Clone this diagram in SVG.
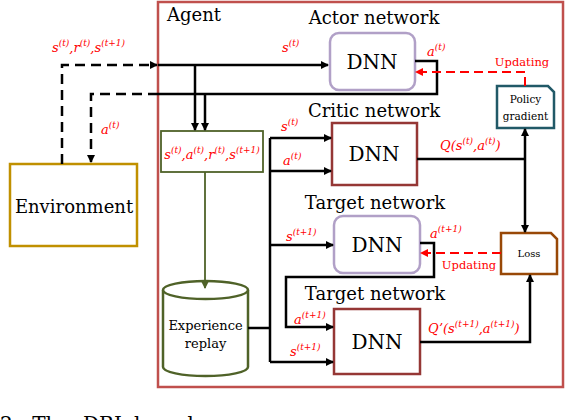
<svg xmlns="http://www.w3.org/2000/svg" width="566" height="420" viewBox="0 0 566 420" font-family="'DejaVu Serif', serif">
<defs>
<marker id="ab" markerWidth="8" markerHeight="8" refX="7" refY="4" orient="auto" markerUnits="userSpaceOnUse"><path d="M0,0 L8,4 L0,8 Z" fill="#000"/></marker>
<marker id="ar" markerWidth="8" markerHeight="8" refX="7" refY="4" orient="auto" markerUnits="userSpaceOnUse"><path d="M0,0 L8,4 L0,8 Z" fill="#ff0000"/></marker>
<marker id="ag" markerWidth="8" markerHeight="8" refX="7" refY="4" orient="auto" markerUnits="userSpaceOnUse"><path d="M0,0 L8,4 L0,8 Z" fill="#4f6228"/></marker>
<style>
text{font-family:"DejaVu Serif",serif;}
.t{font-size:18px;fill:#000;}
.dnn{font-size:20px;fill:#000;text-anchor:middle;}
.lb{font-size:13px;fill:#ff0000;font-style:italic;}
.sp{font-size:9px;}
.ln{fill:none;stroke:#000;stroke-width:2.5;}
.ds{fill:none;stroke:#000;stroke-width:2.5;stroke-dasharray:10,6;}
.rd{fill:none;stroke:#ff0000;stroke-width:2;stroke-dasharray:9,5;}
.up{font-size:11.5px;fill:#ff0000;text-anchor:middle;}
</style>
</defs>
<g id="agent">
<rect x="158" y="2" width="405" height="385" fill="#fff" stroke="#c0504d" stroke-width="2.5"/>
<text class="t" x="167" y="21">Agent</text>
</g>
<g id="environment">
<rect x="10" y="164" width="127" height="82" fill="#fff" stroke="#c09000" stroke-width="2.5"/>
<text class="t" x="74" y="213" text-anchor="middle">Environment</text>
</g>
<g id="actor">
<text class="t" x="374" y="24" text-anchor="middle">Actor network</text>
<rect x="330" y="33" width="85" height="57" rx="9" fill="#fff" stroke="#b1a0c7" stroke-width="2.5"/>
<text class="dnn" x="372" y="69">DNN</text>
</g>
<g id="critic">
<text class="t" x="374" y="117" text-anchor="middle">Critic network</text>
<rect x="332" y="123" width="85" height="62" fill="#fff" stroke="#953735" stroke-width="2.5"/>
<text class="dnn" x="374" y="161">DNN</text>
</g>
<g id="target-actor">
<text class="t" x="375" y="209" text-anchor="middle">Target network</text>
<rect x="334" y="216" width="86" height="57" rx="9" fill="#fff" stroke="#b1a0c7" stroke-width="2.5"/>
<text class="dnn" x="377" y="252">DNN</text>
</g>
<g id="target-critic">
<text class="t" x="375" y="300" text-anchor="middle">Target network</text>
<rect x="334" y="309" width="86" height="65" fill="#fff" stroke="#953735" stroke-width="2.5"/>
<text class="dnn" x="377" y="349">DNN</text>
</g>
<g id="memory">
<rect x="161" y="131" width="102" height="41" fill="#fff" stroke="#4f6228" stroke-width="1.8"/>
<text class="lb" x="212" y="159" text-anchor="middle" font-size="12">s<tspan class="sp" dy="-6">(t)</tspan><tspan dy="6">,a</tspan><tspan class="sp" dy="-6">(t)</tspan><tspan dy="6">,r</tspan><tspan class="sp" dy="-6">(t)</tspan><tspan dy="6">,s</tspan><tspan class="sp" dy="-6">(t+1)</tspan></text>
</g>
<g id="replay">
<path d="M163,290 V367 A42.5,9 0 0 0 248,367 V290" fill="#fff" stroke="#4f6228" stroke-width="2.5"/>
<ellipse cx="205.5" cy="290" rx="42.5" ry="9" fill="#fff" stroke="#4f6228" stroke-width="2.5"/>
<text x="205.5" y="330" font-size="13" text-anchor="middle">Experience</text>
<text x="205.5" y="348" font-size="13" text-anchor="middle">replay</text>
</g>
<g id="policy">
<path d="M497,86 H548 L554,92 V128 H497 Z" fill="#fff" stroke="#215967" stroke-width="2.5"/>
<text x="525.5" y="103" font-size="10.5" text-anchor="middle">Policy</text>
<text x="525.5" y="120" font-size="10.5" text-anchor="middle">gradient</text>
</g>
<g id="loss">
<path d="M501,233 H551 L557,239 V274 H501 Z" fill="#fff" stroke="#984807" stroke-width="2.5"/>
<text x="529" y="257" font-size="10" text-anchor="middle">Loss</text>
</g>
<g id="connectors">
<path class="ds" d="M62,164 V65 H157" marker-end="url(#ab)"/>
<path class="ds" d="M158,94 H91 V162" marker-end="url(#ab)"/>
<path class="ln" d="M158,65 H328" marker-end="url(#ab)"/>
<path class="ln" d="M415,61 H437 V94 H158"/>
<path class="ln" d="M195,65 V130" marker-end="url(#ab)"/>
<path class="ln" d="M205,94 V130" marker-end="url(#ab)"/>
<path d="M205,172 V288" fill="none" stroke="#4f6228" stroke-width="1.8" marker-end="url(#ag)"/>
<path class="ln" d="M248,328 H270"/>
<path class="ln" d="M270,138 V362"/>
<path class="ln" d="M270,138 H331" marker-end="url(#ab)"/>
<path class="ln" d="M270,171 H331" marker-end="url(#ab)"/>
<path class="ln" d="M270,245 H333" marker-end="url(#ab)"/>
<path class="ln" d="M270,362 H333" marker-end="url(#ab)"/>
<path class="ln" d="M420,243 H434 V277 H286 V327 H333" marker-end="url(#ab)"/>
<path class="ln" d="M417,159 H525"/>
<path class="ln" d="M525,159 V129" marker-end="url(#ab)"/>
<path class="ln" d="M525,159 V232" marker-end="url(#ab)"/>
<path class="ln" d="M420,342 H530 V275" marker-end="url(#ab)"/>
<path class="rd" d="M525,86 V72 H416" marker-end="url(#ar)"/>
<path class="rd" d="M501,253 H421" marker-end="url(#ar)"/>
<text class="up" x="522" y="66">Updating</text>
<text class="up" x="469" y="269">Updating</text>
<text class="lb" x="52" y="52">s<tspan class="sp" dy="-6">(t)</tspan><tspan dy="6">,r</tspan><tspan class="sp" dy="-6">(t)</tspan><tspan dy="6">,s</tspan><tspan class="sp" dy="-6">(t+1)</tspan></text>
<text class="lb" x="101" y="134">a<tspan class="sp" dy="-6">(t)</tspan></text>
<text class="lb" x="282" y="52">s<tspan class="sp" dy="-6">(t)</tspan></text>
<text class="lb" x="427" y="56">a<tspan class="sp" dy="-6">(t)</tspan></text>
<text class="lb" x="281" y="131">s<tspan class="sp" dy="-6">(t)</tspan></text>
<text class="lb" x="283" y="165">a<tspan class="sp" dy="-6">(t)</tspan></text>
<text class="lb" x="286" y="241">s<tspan class="sp" dy="-6">(t+1)</tspan></text>
<text class="lb" x="430" y="238">a<tspan class="sp" dy="-6">(t+1)</tspan></text>
<text class="lb" x="294" y="324">a<tspan class="sp" dy="-6">(t+1)</tspan></text>
<text class="lb" x="290" y="356">s<tspan class="sp" dy="-6">(t+1)</tspan></text>
<text class="lb" x="440" y="150" font-size="15">Q(s<tspan class="sp" dy="-6">(t)</tspan><tspan dy="6">,a</tspan><tspan class="sp" dy="-6">(t)</tspan><tspan dy="6">)</tspan></text>
<text class="lb" x="428" y="333" font-size="15">Q’(s<tspan class="sp" dy="-6">(t+1)</tspan><tspan dy="6">,a</tspan><tspan class="sp" dy="-6">(t+1)</tspan><tspan dy="6">)</tspan></text>
</g>
<text x="0" y="431" font-size="20" xml:space="preserve">2:  The  DRL-based</text>
</svg>
